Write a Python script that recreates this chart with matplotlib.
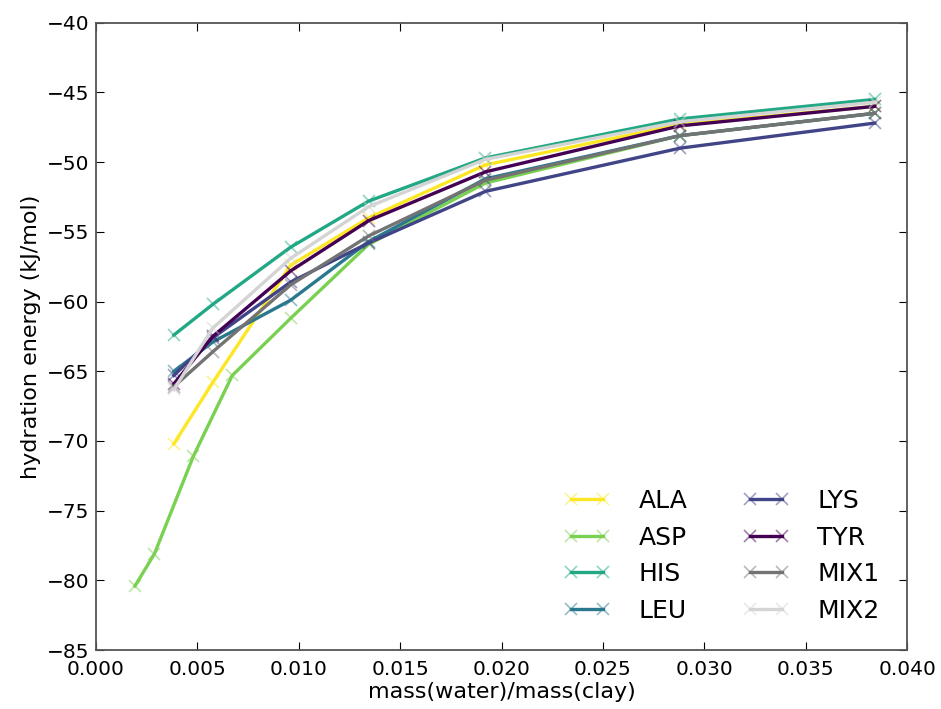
"""
Hydration energy vs water/clay mass ratio for several amino acids.
"""
import numpy as np
import matplotlib
matplotlib.use('Agg')
import matplotlib.pyplot as plt
from matplotlib.colors import to_rgba

# water/clay mass ratios
x_std = [0.00384, 0.00576, 0.0096, 0.01344, 0.0192, 0.0288, 0.0384]
x_asp = [0.00192, 0.00288, 0.0048, 0.00672, 0.0096, 0.01344, 0.0192, 0.0288, 0.0384]

# hydration energies (kJ/mol)
ala = [-70.2, -65.8, -57.4, -54.0, -50.2, -47.3, -46.0]
asp = [-80.4, -78.1, -71.1, -65.3, -61.2, -55.9, -51.5, -48.1, -46.5]
his = [-62.4, -60.2, -56.1, -52.8, -49.7, -46.9, -45.5]
leu = [-65.0, -62.9, -59.9, -55.7, -51.2, -48.1, -46.5]
lys = [-65.3, -62.6, -58.6, -55.8, -52.1, -49.0, -47.2]
tyr = [-65.9, -62.5, -57.8, -54.2, -50.7, -47.4, -46.0]
mix1 = [-66.1, -63.6, -58.8, -55.3, -51.3, -48.1, -46.5]
mix2 = [-66.3, -61.9, -56.9, -53.2, -49.8, -47.1, -45.7]

names = ['ALA', 'ASP', 'HIS', 'LEU', 'LYS', 'TYR', 'MIX1', 'MIX2']
colors = ['#fde725', '#7ad151', '#22a884', '#2a788e', '#414487', '#440154',
          '#737373', '#d4d4d4']

series = [(x_std, ala), (x_asp, asp), (x_std, his), (x_std, leu),
          (x_std, lys), (x_std, tyr), (x_std, mix1), (x_std, mix2)]

fig = plt.figure(figsize=(9.41, 7.09), dpi=100)
ax = fig.add_axes([0.102, 0.083, 0.862, 0.885])

for (xs, ys), name, c in zip(series, names, colors):
    ax.plot(xs, ys, '-x', color=c, lw=2.4, ms=9, mew=1.2,
            mec=to_rgba(c, 0.5), label=name)

ax.set_xlim(0.0, 0.04)
ax.set_ylim(-85, -40)
ax.set_xticks(np.arange(0, 0.0401, 0.005))
ax.set_yticks(np.arange(-85, -39, 5))
ax.set_xlabel('mass(water)/mass(clay)', fontsize=16, labelpad=2)
ax.set_ylabel('hydration energy (kJ/mol)', fontsize=16, labelpad=4)
ax.tick_params(axis='both', which='major', labelsize=14.5, direction='in',
               length=6, top=True, right=True)
ax.tick_params(axis='x', pad=7)
ax.tick_params(axis='y', pad=5)
for sp in ax.spines.values():
    sp.set_color('#555555')
    sp.set_linewidth(1.3)

ax.legend(loc='lower right', ncol=2, frameon=False, fontsize=18,
          numpoints=2, handlelength=1.9, handletextpad=1.1, columnspacing=2.2,
          labelspacing=0.5, borderaxespad=0.7)

plt.savefig('out.png', dpi=100)
